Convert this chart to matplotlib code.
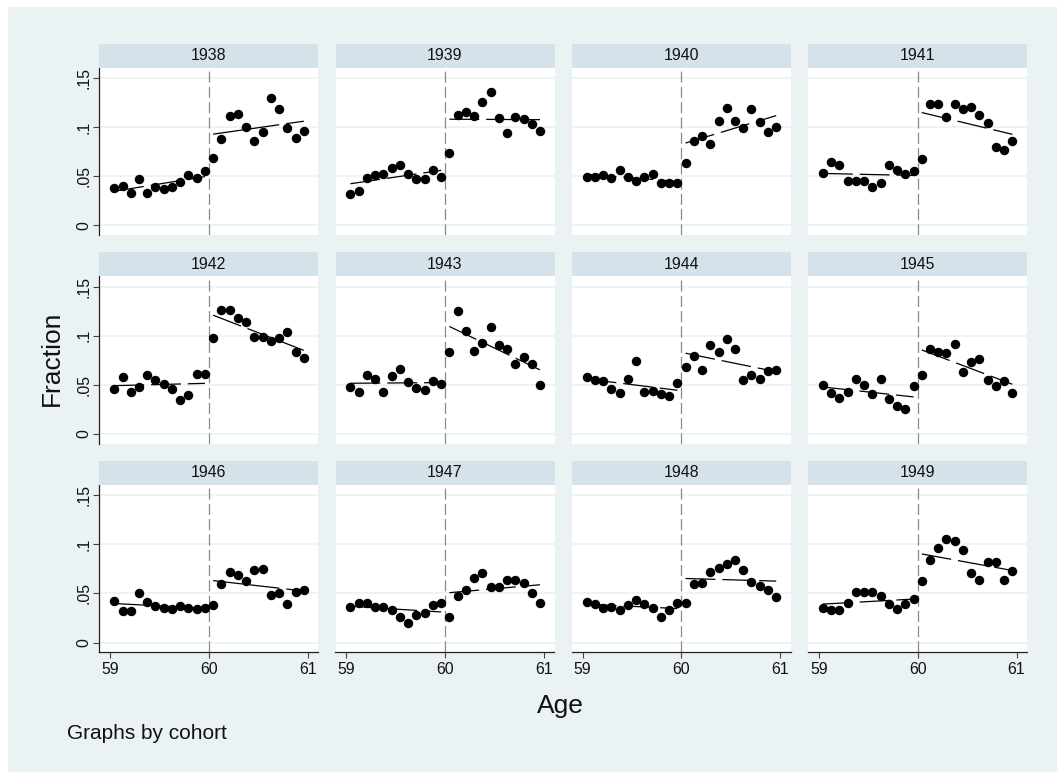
import numpy as np
import matplotlib
matplotlib.use("Agg")
import matplotlib.pyplot as plt
from matplotlib.patches import Rectangle

plt.rcParams["font.family"] = ["Liberation Sans", "DejaVu Sans"]
plt.rcParams["lines.scale_dashes"] = False

# ---------------- data ----------------
cohorts = [1938, 1939, 1940, 1941, 1942, 1943, 1944, 1945, 1946, 1947, 1948, 1949]
# monthly age points (mid-month) from 59 to 61
age = 59 + (np.arange(24) + 0.5) / 12
cutoff = 60

frac_1938 = [0.0377, 0.0404, 0.0333, 0.0475, 0.0333, 0.0394, 0.0367, 0.0394, 0.0438, 0.0512, 0.0482, 0.0553,
             0.0689, 0.0876, 0.1110, 0.1130, 0.1005, 0.0862, 0.0950, 0.1293, 0.1185, 0.0991, 0.0886, 0.0957]
frac_1939 = [0.0319, 0.0353, 0.0482, 0.0516, 0.0519, 0.0584, 0.0614, 0.0519, 0.0475, 0.0468, 0.0560, 0.0496,
             0.0740, 0.1123, 0.1150, 0.1113, 0.1252, 0.1354, 0.1093, 0.0940, 0.1100, 0.1079, 0.1032, 0.0964]
frac_1940 = [0.0489, 0.0496, 0.0516, 0.0479, 0.0567, 0.0496, 0.0451, 0.0496, 0.0523, 0.0428, 0.0428, 0.0434,
             0.0635, 0.0859, 0.0906, 0.0828, 0.1066, 0.1191, 0.1066, 0.0994, 0.1188, 0.1052, 0.0947, 0.0998]
frac_1941 = [0.0529, 0.0648, 0.0614, 0.0448, 0.0455, 0.0448, 0.0394, 0.0434, 0.0614, 0.0560, 0.0526, 0.0550,
             0.0672, 0.1232, 0.1232, 0.1100, 0.1239, 0.1181, 0.1205, 0.1123, 0.1042, 0.0798, 0.0764, 0.0862]
frac_1942 = [0.0462, 0.0580, 0.0428, 0.0482, 0.0597, 0.0550, 0.0512, 0.0462, 0.0350, 0.0394, 0.0611, 0.0614,
             0.0977, 0.1266, 0.1259, 0.1185, 0.1137, 0.0984, 0.0984, 0.0947, 0.0974, 0.1039, 0.0838, 0.0770]
frac_1943 = [0.0482, 0.0431, 0.0597, 0.0557, 0.0428, 0.0587, 0.0658, 0.0529, 0.0465, 0.0451, 0.0540, 0.0509,
             0.0835, 0.1256, 0.1052, 0.0842, 0.0930, 0.1086, 0.0903, 0.0869, 0.0716, 0.0781, 0.0716, 0.0496]
frac_1944 = [0.0580, 0.0550, 0.0536, 0.0462, 0.0421, 0.0557, 0.0743, 0.0428, 0.0441, 0.0407, 0.0387, 0.0516,
             0.0686, 0.0798, 0.0655, 0.0910, 0.0838, 0.0971, 0.0869, 0.0546, 0.0597, 0.0563, 0.0645, 0.0655]
frac_1945 = [0.0499, 0.0417, 0.0370, 0.0431, 0.0560, 0.0499, 0.0407, 0.0557, 0.0360, 0.0288, 0.0258, 0.0485,
             0.0604, 0.0862, 0.0832, 0.0828, 0.0920, 0.0628, 0.0733, 0.0760, 0.0553, 0.0492, 0.0540, 0.0417]
frac_1946 = [0.0424, 0.0322, 0.0322, 0.0502, 0.0411, 0.0377, 0.0356, 0.0343, 0.0370, 0.0356, 0.0343, 0.0350,
             0.0387, 0.0594, 0.0720, 0.0689, 0.0624, 0.0740, 0.0753, 0.0482, 0.0506, 0.0394, 0.0512, 0.0533]
frac_1947 = [0.0367, 0.0407, 0.0407, 0.0367, 0.0367, 0.0336, 0.0265, 0.0197, 0.0278, 0.0302, 0.0387, 0.0407,
             0.0261, 0.0475, 0.0533, 0.0655, 0.0713, 0.0570, 0.0570, 0.0641, 0.0638, 0.0611, 0.0506, 0.0404]
frac_1948 = [0.0417, 0.0394, 0.0356, 0.0363, 0.0333, 0.0380, 0.0434, 0.0394, 0.0356, 0.0265, 0.0329, 0.0404,
             0.0400, 0.0597, 0.0611, 0.0723, 0.0760, 0.0804, 0.0845, 0.0740, 0.0618, 0.0574, 0.0533, 0.0462]
frac_1949 = [0.0353, 0.0336, 0.0329, 0.0400, 0.0519, 0.0519, 0.0519, 0.0472, 0.0390, 0.0339, 0.0390, 0.0441,
             0.0631, 0.0842, 0.0964, 0.1055, 0.1032, 0.0944, 0.0706, 0.0635, 0.0821, 0.0821, 0.0638, 0.0726]

series = [frac_1938, frac_1939, frac_1940, frac_1941, frac_1942, frac_1943,
          frac_1944, frac_1945, frac_1946, frac_1947, frac_1948, frac_1949]

yticks = [0, 0.05, 0.10, 0.15]
ytick_labels = ["0", ".05", ".1", ".15"]
xticks = [59, 60, 61]
xtick_labels = ["59", "60", "61"]

# ---------------- style ----------------
BG = "#EAF2F3"
STRIP = "#D6E2E9"
GRID = "#EAF2F3"
W, H = 1057, 772

fig = plt.figure(figsize=(W / 100, H / 100), dpi=100, facecolor="white")
fig.patches.append(Rectangle((8 / W, 0), 1 - 8 / W, (H - 7) / H, transform=fig.transFigure,
                             facecolor=BG, edgecolor="none", zorder=-10))

PW, PH = 219.0, 167.3
SH = 24.0
for idx, (cohort, vals) in enumerate(zip(cohorts, series)):
    r, c = divmod(idx, 4)
    left = 99.3 + c * 236.2
    top = 67.7 + r * 208.6
    ax = fig.add_axes([left / W, 1 - (top + PH) / H, PW / W, PH / H])
    ax.set_facecolor("white")
    ax.set_xlim(58.89, 61.105)
    ax.set_ylim(-0.0098, 0.1605)
    ax.set_yticks(yticks)
    ax.yaxis.grid(True, color=GRID, lw=1.2)
    ax.set_axisbelow(True)
    for s in ax.spines.values():
        s.set_visible(False)

    y = np.asarray(vals)
    ax.axvline(cutoff, color="#8A8A8A", lw=0.9, ls=(0, (8, 3)), zorder=1)
    ax.plot(age, y, "o", color="black", ms=5.8, zorder=3)
    for mask in (age < cutoff, age >= cutoff):
        coef = np.polyfit(age[mask], y[mask], 1)
        xs = age[mask][[0, -1]]
        ax.plot(xs, np.polyval(coef, xs), color="black", lw=0.9, ls=(0, (21.5, 5)), zorder=4)

    if c == 0:
        ax.spines["left"].set_visible(True)
        ax.spines["left"].set_color("#222222")
        ax.spines["left"].set_linewidth(0.9)
        ax.set_yticklabels(ytick_labels, rotation=90, va="center")
        ax.tick_params(axis="y", length=4.3, width=0.8, color="#444444", pad=1.5,
                       labelsize=11.4, labelcolor="#111111")
    else:
        ax.tick_params(axis="y", left=False, labelleft=False)

    if r == 2:
        ax.spines["bottom"].set_visible(True)
        ax.spines["bottom"].set_color("#222222")
        ax.spines["bottom"].set_linewidth(0.9)
        ax.set_xticks(xticks)
        ax.set_xticklabels(xtick_labels)
        ax.tick_params(axis="x", length=4.3, width=0.8, color="#444444", pad=3.0,
                       labelsize=11.4, labelcolor="#111111")
    else:
        ax.tick_params(axis="x", bottom=False, labelbottom=False)

    sax = fig.add_axes([left / W, 1 - top / H, PW / W, SH / H])
    sax.set_facecolor(STRIP)
    sax.set_xticks([])
    sax.set_yticks([])
    for s in sax.spines.values():
        s.set_visible(False)
    sax.text(0.5, 0.5, str(cohort), ha="center", va="center", fontsize=11.4, color="#111111")

fig.text(560 / W, 1 - 713 / H, "Age", ha="center", va="baseline", fontsize=19, color="#111111")
fig.text(52 / W, 1 - 358 / H, "Fraction", rotation=90, ha="center", va="center",
         fontsize=19, color="#111111")
fig.text(67 / W, 1 - 739 / H, "Graphs by cohort", ha="left", va="baseline", fontsize=15,
         color="#111111")

fig.savefig("out.png", dpi=100, facecolor="white")
